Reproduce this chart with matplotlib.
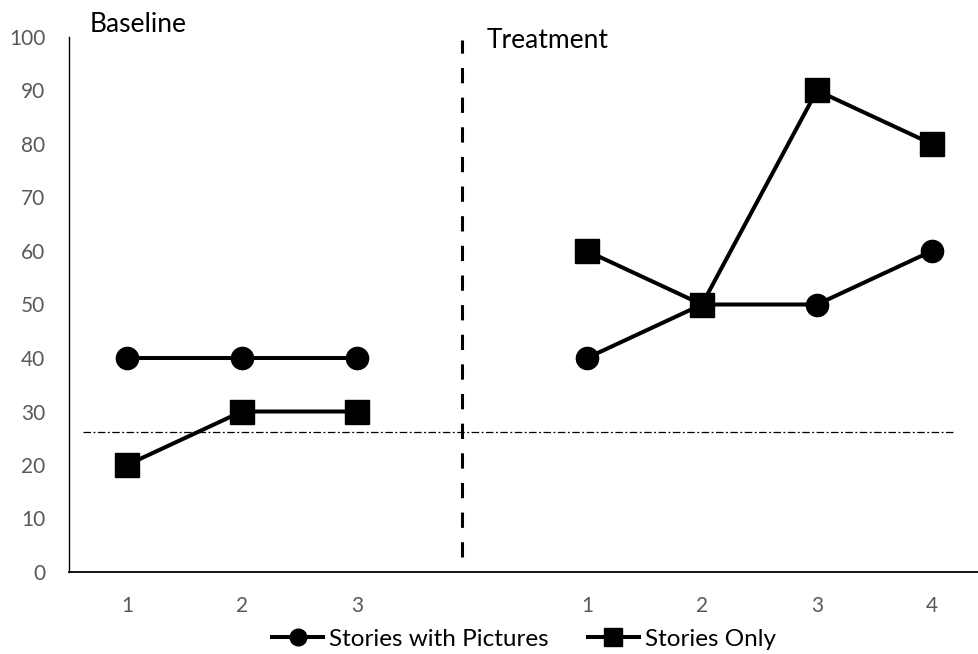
import numpy as np
import matplotlib
matplotlib.use('Agg')
import matplotlib.pyplot as plt

# Data
categories = ['1', '2', '3', '', '1', '2', '3', '4']
stories_with_pictures = [40, 40, 40, np.nan, 40, 50, 50, 60]
stories_only = [20, 30, 30, np.nan, 60, 50, 90, 80]
criterion = 26.2
phase_labels = ['Baseline', 'Treatment']

plt.rcParams['font.family'] = ['Lato', 'DejaVu Sans']

fig = plt.figure(figsize=(9.79, 6.54), dpi=100)
ax = fig.add_axes([69 / 979, 82 / 654, 910 / 979, 535 / 654])

x = np.arange(len(categories))
ax.plot(x, stories_with_pictures, color='black', lw=2.9, marker='o', ms=16,
        label='Stories with Pictures')
ax.plot(x, stories_only, color='black', lw=2.9, marker='s', ms=17,
        label='Stories Only')

# phase change line and criterion line
ax.plot([2.91, 2.91], [2.8, 99.4], color='black', lw=2.2, dashes=(5, 4.7))
ax.plot([-0.38, 7.18], [criterion, criterion], color='black', lw=0.9,
        dashes=(6, 2, 1.5, 2))

ax.set_xlim(-0.504, 7.409)
ax.set_ylim(0, 100)
ax.set_xticks(x)
ax.set_xticklabels(categories)
ax.set_yticks(range(0, 101, 10))
ax.tick_params(axis='both', length=0, labelsize=15, colors='#595959')
ax.tick_params(axis='x', pad=17)
ax.tick_params(axis='y', pad=17)
for s in ['top', 'right']:
    ax.spines[s].set_visible(False)
ax.spines['left'].set_linewidth(1.0)
ax.spines['bottom'].set_linewidth(1.3)

fig.text(90 / 979, 1 - 24 / 654, phase_labels[0], fontsize=19, va='center', ha='left')
fig.text(487 / 979, 1 - 40 / 654, phase_labels[1], fontsize=19, va='center', ha='left')

ax.legend(loc='center', bbox_to_anchor=(524 / 979, 15 / 654),
          bbox_transform=fig.transFigure, ncol=2, frameon=False, fontsize=17.5,
          handlelength=2.1, handletextpad=0.25, columnspacing=1.6, markerscale=0.75)

fig.savefig('out.png', dpi=100)
